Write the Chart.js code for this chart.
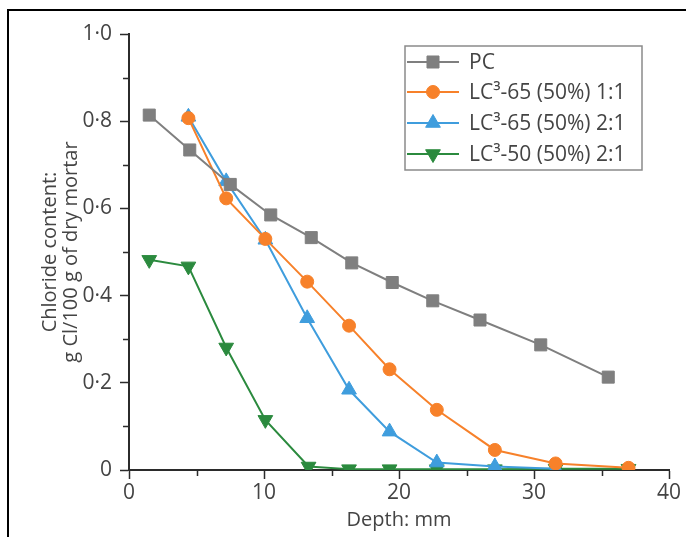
<!DOCTYPE html>
<html>
<head>
<meta charset="utf-8">
<title>Chloride profiles</title>
<script src="https://cdn.jsdelivr.net/npm/chart.js@4.4.1/dist/chart.umd.min.js"></script>
<style>
    html, body { margin: 0; padding: 0; background: #fff; }
    #wrap { width: 686px; height: 537px; position: relative; }
</style>
</head>
<body>
<div id="wrap"><canvas id="chart" width="686" height="537"></canvas></div>
<script>
// Chloride content vs depth
const pcDepth = [1.5, 4.5, 7.5, 10.5, 13.5, 16.5, 19.5, 22.5, 26.0, 30.5, 35.5];
const pcChloride = [0.814, 0.734, 0.655, 0.585, 0.533, 0.475, 0.430, 0.388, 0.344, 0.287, 0.213];

const lc65aDepth = [4.4, 7.2, 10.1, 13.2, 16.3, 19.3, 22.8, 27.1, 31.6, 37.0];
const lc65aChloride = [0.807, 0.623, 0.530, 0.432, 0.331, 0.231, 0.138, 0.046, 0.015, 0.005];

const lc65bDepth = [4.4, 7.2, 10.1, 13.2, 16.3, 19.3, 22.8, 27.1, 31.6];
const lc65bChloride = [0.810, 0.662, 0.528, 0.348, 0.184, 0.088, 0.017, 0.008, 0.003];

const lc50Depth = [1.5, 4.4, 7.2, 10.1, 13.3, 16.3, 19.3, 22.8, 27.1, 31.6, 37.0];
const lc50Chloride = [0.482, 0.467, 0.281, 0.115, 0.008, 0.002, 0.002, 0.002, 0.002, 0.003, 0.003];

const seriesLabels = ['PC', 'LC³-65 (50%) 1:1', 'LC³-65 (50%) 2:1', 'LC³-50 (50%) 2:1'];
const yTicks = [0, 0.2, 0.4, 0.6, 0.8, 1.0];
const xTicks = [0, 10, 20, 30, 40];

const FONT = '"Open Sans", "Noto Sans", sans-serif';
const TEXT = '#444';
const AXIS = '#2b2b2b';

function pairs(xs, ys) {
    return xs.map((x, i) => ({ x: x, y: ys[i] }));
}

// frame lines along the top and left edge
const framePlugin = {
    id: 'frame',
    afterDraw(chart) {
        const ctx = chart.ctx;
        ctx.save();
        ctx.strokeStyle = '#000';
        ctx.lineWidth = 2;
        ctx.beginPath();
        ctx.moveTo(8, 537);
        ctx.lineTo(8, 10);
        ctx.lineTo(686, 10);
        ctx.stroke();
        ctx.restore();
    }
};

// short ticks half way between the labelled ones
const minorTicksPlugin = {
    id: 'minorTicks',
    afterDatasetsDraw(chart) {
        const { ctx, scales: { x, y } } = chart;
        ctx.save();
        ctx.strokeStyle = AXIS;
        ctx.lineWidth = 1.5;
        ctx.beginPath();
        for (let i = 0; i < yTicks.length - 1; i++) {
            const py = Math.round(y.getPixelForValue((yTicks[i] + yTicks[i + 1]) / 2)) + 0.5;
            ctx.moveTo(y.right - 1, py);
            ctx.lineTo(y.right - 6, py);
        }
        for (let i = 0; i < xTicks.length - 1; i++) {
            const px = Math.round(x.getPixelForValue((xTicks[i] + xTicks[i + 1]) / 2)) + 0.5;
            ctx.moveTo(px, x.top + 1);
            ctx.lineTo(px, x.top + 6);
        }
        ctx.stroke();
        ctx.restore();
    }
};

// axis titles
const titlesPlugin = {
    id: 'axisTitles',
    afterDraw(chart) {
        const { ctx, chartArea } = chart;
        ctx.save();
        ctx.fillStyle = TEXT;
        ctx.font = '20px ' + FONT;
        ctx.textAlign = 'center';
        ctx.textBaseline = 'middle';
        ctx.fillText('Depth: mm', (chartArea.left + chartArea.right) / 2, 520);

        ctx.translate(0, (chartArea.top + chartArea.bottom) / 2);
        ctx.rotate(-Math.PI / 2);
        ctx.fillText('Chloride content:', 0, 50);
        ctx.fillText('g Cl/100 g of dry mortar', 0, 71);
        ctx.restore();
    }
};

// boxed legend with line + marker samples
const legendPlugin = {
    id: 'boxLegend',
    afterDraw(chart) {
        const ctx = chart.ctx;
        const box = { left: 405, top: 46, right: 642, bottom: 170 };
        const rows = [62, 92, 123, 154];
        ctx.save();
        ctx.fillStyle = '#fff';
        ctx.fillRect(box.left, box.top, box.right - box.left, box.bottom - box.top);
        ctx.strokeStyle = '#8a8a8a';
        ctx.lineWidth = 1.5;
        ctx.strokeRect(box.left, box.top, box.right - box.left, box.bottom - box.top);

        chart.data.datasets.forEach((ds, i) => {
            const y = rows[i];
            ctx.strokeStyle = ds.borderColor;
            ctx.lineWidth = ds.borderWidth;
            ctx.beginPath();
            ctx.moveTo(407, y);
            ctx.lineTo(459, y);
            ctx.stroke();

            ctx.fillStyle = ds.pointBackgroundColor;
            ctx.strokeStyle = ds.pointBackgroundColor;
            ctx.lineWidth = 1;
            Chart.helpers.drawPoint(ctx, {
                pointStyle: ds.pointStyle,
                rotation: ds.pointRotation || 0,
                radius: ds.pointRadius,
                borderWidth: 1
            }, 433, y);

            ctx.fillStyle = TEXT;
            ctx.font = '21px ' + FONT;
            ctx.textAlign = 'left';
            ctx.textBaseline = 'middle';
            ctx.fillText(ds.label, 469, y + 1);
        });
        ctx.restore();
    }
};

function makeSeries(label, data, color, style, radius, rotation) {
    return {
        label: label,
        data: data,
        borderColor: color,
        borderWidth: 2,
        pointStyle: style,
        pointRadius: radius,
        pointHoverRadius: radius,
        pointRotation: rotation,
        pointBackgroundColor: color,
        pointBorderColor: color,
        pointBorderWidth: 1,
        tension: 0,
        fill: false
    };
}

new Chart(document.getElementById('chart'), {
    type: 'line',
    data: {
        datasets: [
            makeSeries(seriesLabels[0], pairs(pcDepth, pcChloride), '#7f7f7f', 'rect', 8.5, 0),
            makeSeries(seriesLabels[1], pairs(lc65aDepth, lc65aChloride), '#f7812a', 'circle', 6.5, 0),
            makeSeries(seriesLabels[2], pairs(lc65bDepth, lc65bChloride), '#3f9ddd', 'triangle', 8.5, 0),
            makeSeries(seriesLabels[3], pairs(lc50Depth, lc50Chloride), '#2b8a3e', 'triangle', 8.5, 180)
        ]
    },
    options: {
        responsive: false,
        animation: false,
        layout: { padding: { top: 34, right: 17, left: 0, bottom: 0 } },
        plugins: {
            legend: { display: false },
            tooltip: { enabled: false }
        },
        scales: {
            x: {
                type: 'linear',
                min: 0,
                max: 40,
                afterBuildTicks(scale) {
                    scale.ticks = xTicks.map(v => ({ value: v }));
                },
                afterFit(scale) { scale.height = 67; },
                ticks: {
                    color: TEXT,
                    font: { family: FONT, size: 21 },
                    padding: 1,
                    maxRotation: 0,
                    callback: v => String(v)
                },
                grid: {
                    drawOnChartArea: false,
                    drawTicks: true,
                    tickLength: 9,
                    tickColor: AXIS,
                    tickWidth: 1.5
                },
                border: { color: AXIS, width: 2 }
            },
            y: {
                type: 'linear',
                min: 0,
                max: 1,
                afterBuildTicks(scale) {
                    scale.ticks = yTicks.map(v => ({ value: v }));
                },
                afterFit(scale) { scale.width = 129; },
                ticks: {
                    color: TEXT,
                    font: { family: FONT, size: 21 },
                    padding: 8,
                    callback: v => v === 0 ? '0' : v.toFixed(1).replace('.', '·')
                },
                grid: {
                    drawOnChartArea: false,
                    drawTicks: true,
                    tickLength: 9,
                    tickColor: AXIS,
                    tickWidth: 1.5
                },
                border: { color: AXIS, width: 2 }
            }
        }
    },
    plugins: [minorTicksPlugin, titlesPlugin, legendPlugin, framePlugin]
});
</script>
</body>
</html>
